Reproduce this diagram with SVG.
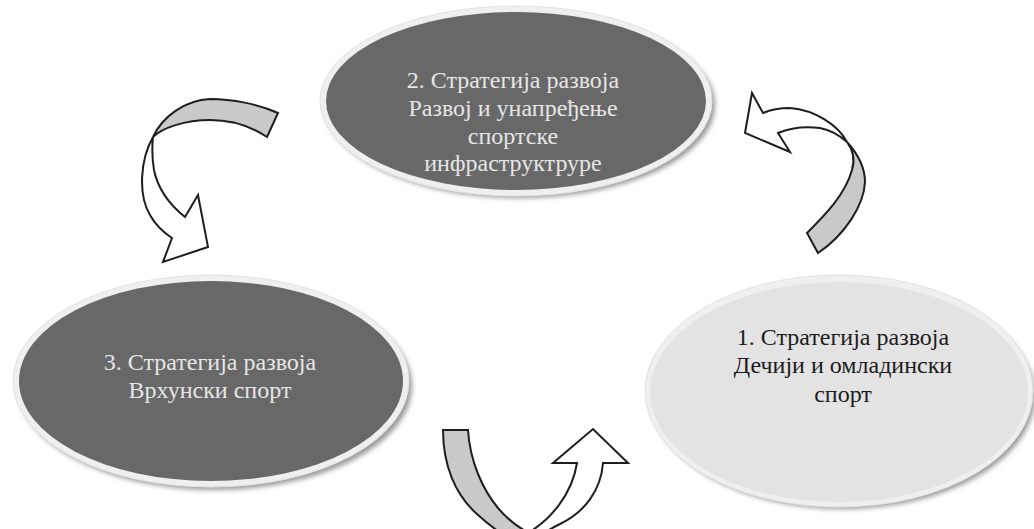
<svg xmlns="http://www.w3.org/2000/svg" width="1034" height="529" viewBox="0 0 1034 529">
<defs>
<filter id="sh" x="-10%" y="-10%" width="120%" height="130%"><feGaussianBlur stdDeviation="2.5"/></filter>
<style>
.shadow{fill:#9a9a9a;filter:url(#sh)}
.rim{fill:#efefef;stroke:#e2e2e2;stroke-width:1}
.dark{fill:#686868}
.light{fill:#e3e3e3}
.tl{font-family:"Liberation Serif","Times New Roman",serif;font-size:24px;fill:#e6e6e6;text-anchor:middle}
.td{font-family:"Liberation Serif","Times New Roman",serif;font-size:24px;fill:#1c1c1c;text-anchor:middle}
.ab{fill:#c9c9c9;stroke:#1e1e1e;stroke-width:2;stroke-linejoin:miter}
.af{fill:#ffffff;stroke:#1e1e1e;stroke-width:2;stroke-linejoin:miter}
</style>
</defs>
<rect width="1034" height="529" fill="#ffffff"/>
<g id="node2">
<ellipse class="shadow" cx="520" cy="105" rx="195" ry="93"/>
<ellipse class="rim" cx="516" cy="101" rx="196" ry="95"/>
<ellipse class="dark" cx="516" cy="101" rx="190" ry="89"/>
<text class="tl" x="513" y="88">2. Стратегија развоја</text>
<text class="tl" x="513" y="116">Развој и унапређење</text>
<text class="tl" x="513" y="144">спортске</text>
<text class="tl" x="513" y="171">инфраструктруре</text>
</g>
<g id="node3">
<ellipse class="shadow" cx="215" cy="386" rx="197" ry="104"/>
<ellipse class="rim" cx="211" cy="381" rx="198" ry="106"/>
<ellipse class="dark" cx="211" cy="381" rx="192" ry="100"/>
<text class="tl" x="210" y="370">3. Стратегија развоја</text>
<text class="tl" x="210" y="398">Врхунски спорт</text>
</g>
<g id="node1">
<ellipse class="shadow" cx="843" cy="396" rx="192" ry="113"/>
<ellipse class="rim" cx="839" cy="391" rx="194" ry="116"/>
<ellipse class="light" cx="839" cy="392" rx="189" ry="110"/>
<text class="td" x="843" y="345">1. Стратегија развоја</text>
<text class="td" x="843" y="373">Дечији и омладински</text>
<text class="td" x="843" y="402">спорт</text>
</g>
<g id="connectors">
<g id="arrow-2-3">
<path class="ab" d="M278,113 C258,104 232,99 210,99 C185,100 162,117 153,137 C162,128 185,120 210,120 C232,120 252,127 267,137 Z"/>
<path class="af" d="M153,137 C140,160 138,195 150,215 C156,226 163,232 172,238 L163,262 L208,247 L198,195 L185,217 C170,205 158,190 154,170 C152,158 152,147 153,137 Z"/>
</g>
<g id="arrow-1-2">
<path class="ab" d="M807,233 C825,215 845,195 852,170 C855,160 853,150 847,142 C856,152 865,165 865,182 C864,205 845,235 818,253 Z"/>
<path class="af" d="M847,142 C838,125 815,110 790,108 C780,108 770,110 763,113 L752,93 L745,133 L790,152 L778,133 C790,128 805,126 820,128 C830,130 838,134 847,142 Z"/>
</g>
<g id="arrow-3-1">
<path class="ab" d="M443,430 C443,465 455,495 478,515 C488,524 496,530 505,536 L535,536 C522,530 508,520 498,508 C483,490 470,462 468,430 Z"/>
<path class="af" d="M528,533 C550,520 572,495 577,463 L553,463 L593,429 L628,463 L603,463 C601,490 585,512 560,524 C550,529 545,532 540,536 L520,536 Z"/>
</g>
</g>
</svg>
